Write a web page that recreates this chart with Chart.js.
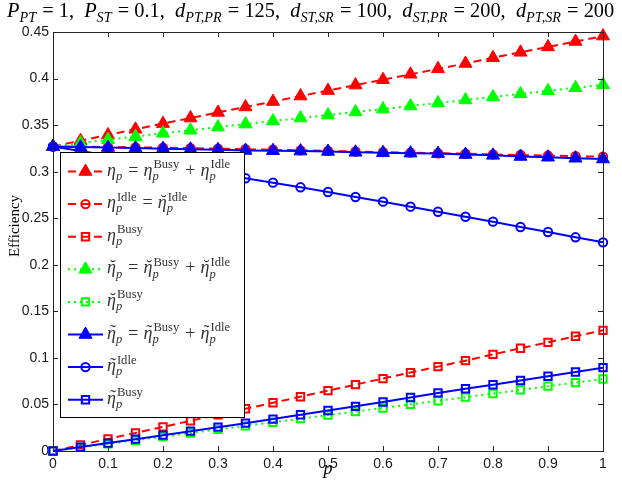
<!DOCTYPE html>
<html>
<head>
<meta charset="utf-8">
<title>Efficiency vs p</title>
<script src="https://cdn.jsdelivr.net/npm/chart.js@4.4.0/dist/chart.umd.min.js"></script>
<style>
  body { margin: 0; background: #fff; }
  canvas { display: block; }
</style>
</head>
<body>
<canvas id="chart" width="622" height="483"></canvas>
<script>
// p values on the x axis
const pVals = [0, 0.05, 0.1, 0.15, 0.2, 0.25, 0.3, 0.35, 0.4, 0.45, 0.5,
               0.55, 0.6, 0.65, 0.7, 0.75, 0.8, 0.85, 0.9, 0.95, 1];

// red (dashed) series
const etaTotal = [0.327, 0.3333, 0.3395, 0.3455, 0.3516, 0.3576, 0.3636, 0.3695, 0.3753, 0.3812, 0.3871,
                  0.393, 0.3988, 0.4046, 0.4104, 0.4162, 0.4223, 0.4282, 0.434, 0.4398, 0.4456];
const etaIdle  = [0.327, 0.3268, 0.3265, 0.3261, 0.3257, 0.3252, 0.3247, 0.3241, 0.3235, 0.3229, 0.3223,
                  0.3217, 0.321, 0.3204, 0.3198, 0.3192, 0.3185, 0.3179, 0.3173, 0.3166, 0.316];
const etaBusy  = [0, 0.0065, 0.013, 0.0194, 0.0259, 0.0324, 0.0389, 0.0454, 0.0518, 0.0583, 0.0648,
                  0.0713, 0.0778, 0.0842, 0.0906, 0.097, 0.1038, 0.1103, 0.1167, 0.1232, 0.1296];

// green (dotted) series
const brTotal = [0.327, 0.3307, 0.3343, 0.3377, 0.3412, 0.3445, 0.3479, 0.3511, 0.3544, 0.3576, 0.3608,
                 0.3641, 0.3672, 0.3705, 0.3738, 0.377, 0.3802, 0.3835, 0.3869, 0.3901, 0.3933];
const brBusy  = [0, 0.0039, 0.0078, 0.0116, 0.0155, 0.0193, 0.0232, 0.027, 0.0309, 0.0347, 0.0385,
                 0.0424, 0.0462, 0.0501, 0.054, 0.0578, 0.0617, 0.0656, 0.0696, 0.0735, 0.0773];

// blue (solid) series
const tlTotal = [0.327, 0.3264, 0.3259, 0.3253, 0.3247, 0.3241, 0.3235, 0.3228, 0.3225, 0.3221, 0.3217,
                 0.3208, 0.3204, 0.3199, 0.3194, 0.3184, 0.3175, 0.3163, 0.3155, 0.3144, 0.3136];
const tlIdle  = [0.327, 0.3222, 0.3174, 0.3126, 0.3077, 0.3028, 0.2979, 0.2929, 0.2882, 0.2832, 0.2782,
                 0.2728, 0.2678, 0.2624, 0.257, 0.2516, 0.2463, 0.2406, 0.2352, 0.2295, 0.2241];
const tlBusy  = [0, 0.0042, 0.0085, 0.0127, 0.017, 0.0213, 0.0256, 0.0299, 0.0343, 0.0389, 0.0435,
                 0.048, 0.0526, 0.0575, 0.0624, 0.0668, 0.0712, 0.0757, 0.0803, 0.0849, 0.0895];

const RED = '#ff0000', GREEN = '#00ff00', BLUE = '#0000ff';
const DASH = [8, 5], DOT = [2, 4], SOLID = [];
const SERIF = '"Liberation Serif", "DejaVu Serif", serif';
const SANS = '"Liberation Sans", Arial, sans-serif';

// marker radius per style
const radius = { triangle: 7.5, circle: 4.2, rect: 5.2 };

function series(values, color, style, dash, order) {
  const filled = style === 'triangle';
  return {
    data: pVals.map((p, i) => ({ x: p, y: values[i] })),
    borderColor: color,
    borderWidth: 2,
    borderDash: dash,
    pointStyle: style,
    pointRadius: radius[style],
    pointBorderWidth: filled ? 1 : 2,
    pointBorderColor: color,
    pointBackgroundColor: filled ? color : 'rgba(0,0,0,0)',
    tension: 0,
    clip: false,
    order: order,
    _dash: dash
  };
}

const datasets = [
  series(etaTotal, RED, 'triangle', DASH, 8),
  series(etaIdle, RED, 'circle', DASH, 7),
  series(etaBusy, RED, 'rect', DASH, 6),
  series(brTotal, GREEN, 'triangle', DOT, 5),
  series(brBusy, GREEN, 'rect', DOT, 4),
  series(tlTotal, BLUE, 'triangle', SOLID, 3),
  series(tlIdle, BLUE, 'circle', SOLID, 2),
  series(tlBusy, BLUE, 'rect', SOLID, 1)
];

// legend rows: each one a list of math pieces
const eta = (acc, sup) => ({ b: '\u03b7', acc: acc, sub: 'p', sup: sup });
const legendRows = [
  [eta('', ''), '=', eta('', 'Busy'), '+', eta('', 'Idle')],
  [eta('', 'Idle'), '=', eta('breve', 'Idle')],
  [eta('', 'Busy')],
  [eta('breve', ''), '=', eta('breve', 'Busy'), '+', eta('breve', 'Idle')],
  [eta('breve', 'Busy')],
  [eta('tilde', ''), '=', eta('tilde', 'Busy'), '+', eta('tilde', 'Idle')],
  [eta('tilde', 'Idle')],
  [eta('tilde', 'Busy')]
];

const titleParts = [
  { b: 'P', sub: 'PT' }, ' = 1,  ', { b: 'P', sub: 'ST' }, ' = 0.1,  ',
  { b: 'd', sub: 'PT,PR' }, ' = 125,  ', { b: 'd', sub: 'ST,SR' }, ' = 100,  ',
  { b: 'd', sub: 'ST,PR' }, ' = 200,  ', { b: 'd', sub: 'PT,SR' }, ' = 200'
];

// draws (or just measures) a row of math pieces, returns the end x
function drawMath(ctx, parts, x, y, size, draw) {
  const ss = size * 0.7;
  parts.forEach(part => {
    if (typeof part === 'string') {
      ctx.font = size + 'px ' + SERIF;
      const op = part === '=' || part === '+';
      if (op) x += size * 0.28;
      if (draw) ctx.fillText(part, x, y);
      x += ctx.measureText(part).width;
      if (op) x += size * 0.28;
      return;
    }
    ctx.font = 'italic ' + size + 'px ' + SERIF;
    const w = ctx.measureText(part.b).width;
    if (draw) ctx.fillText(part.b, x, y);
    if (part.acc && draw) {
      const ch = part.acc === 'breve' ? '\u02d8' : '\u02dc';
      ctx.font = size + 'px ' + SERIF;
      const aw = ctx.measureText(ch).width;
      ctx.fillText(ch, x + w / 2 + size * 0.08 - aw / 2, y - size * 0.02);
    }
    let sw = 0;
    if (part.sup) {
      ctx.font = ss + 'px ' + SERIF;
      if (draw) ctx.fillText(part.sup, x + w + 1, y - size * 0.42);
      sw = Math.max(sw, ctx.measureText(part.sup).width + 1);
    }
    if (part.sub) {
      ctx.font = 'italic ' + ss + 'px ' + SERIF;
      if (draw) ctx.fillText(part.sub, x + w, y + size * 0.24);
      sw = Math.max(sw, ctx.measureText(part.sub).width);
    }
    x += w + sw + 1;
  });
  return x;
}

function drawMarker(ctx, style, x, y, color) {
  const r = radius[style];
  ctx.save();
  ctx.setLineDash([]);
  ctx.strokeStyle = color;
  ctx.fillStyle = color;
  ctx.beginPath();
  if (style === 'triangle') {
    ctx.lineWidth = 1;
    ctx.moveTo(x, y - r);
    ctx.lineTo(x + r * 0.866, y + r * 0.5);
    ctx.lineTo(x - r * 0.866, y + r * 0.5);
    ctx.closePath();
    ctx.fill();
    ctx.stroke();
  } else if (style === 'circle') {
    ctx.lineWidth = 2;
    ctx.arc(x, y, r, 0, Math.PI * 2);
    ctx.stroke();
  } else {
    ctx.lineWidth = 2;
    const s = r * Math.SQRT1_2;
    ctx.rect(x - s, y - s, 2 * s, 2 * s);
    ctx.stroke();
  }
  ctx.restore();
}

const decorations = {
  id: 'decorations',
  afterDraw(chart) {
    const ctx = chart.ctx;
    const a = chart.chartArea;
    const xs = chart.scales.x, ys = chart.scales.y;
    ctx.save();

    // box and inward ticks
    ctx.strokeStyle = '#262626';
    ctx.lineWidth = 1;
    ctx.strokeRect(Math.round(a.left) + 0.5, Math.round(a.top) + 0.5,
                   Math.round(a.right - a.left), Math.round(a.bottom - a.top));
    ctx.beginPath();
    xs.ticks.forEach(t => {
      const px = Math.round(xs.getPixelForValue(t.value)) + 0.5;
      ctx.moveTo(px, a.bottom); ctx.lineTo(px, a.bottom - 5);
      ctx.moveTo(px, a.top); ctx.lineTo(px, a.top + 5);
    });
    ys.ticks.forEach(t => {
      const py = Math.round(ys.getPixelForValue(t.value)) + 0.5;
      ctx.moveTo(a.left, py); ctx.lineTo(a.left + 5, py);
      ctx.moveTo(a.right, py); ctx.lineTo(a.right - 5, py);
    });
    ctx.stroke();

    // title
    ctx.fillStyle = '#000';
    ctx.textBaseline = 'alphabetic';
    const tw = drawMath(ctx, titleParts, 0, 0, 16, false);
    const tsize = 16 * 609 / tw;
    drawMath(ctx, titleParts, 7, 17, tsize, true);

    // axis labels
    ctx.font = 'italic 18px ' + SERIF;
    ctx.textAlign = 'center';
    ctx.fillText('p', (a.left + a.right) / 2, 474);
    ctx.save();
    ctx.translate(19, 226);
    ctx.rotate(-Math.PI / 2);
    ctx.font = '15px ' + SERIF;
    ctx.fillText('Efficiency', 0, 0);
    ctx.restore();
    ctx.textAlign = 'left';

    // legend box
    const bx = 60.5, by = 152.5, bw = 184, bh = 265;
    ctx.fillStyle = '#fff';
    ctx.fillRect(bx, by, bw, bh);
    ctx.strokeStyle = '#000';
    ctx.lineWidth = 1;
    ctx.strokeRect(bx, by, bw, bh);

    chart.data.datasets.forEach((d, i) => {
      const y = 171.5 + 32.6 * i;
      ctx.save();
      ctx.strokeStyle = d.borderColor;
      ctx.lineWidth = 2;
      ctx.setLineDash(d._dash);
      ctx.beginPath();
      ctx.moveTo(68, y);
      ctx.lineTo(103, y);
      ctx.stroke();
      ctx.restore();
      drawMarker(ctx, d.pointStyle, 85.5, y, d.borderColor);
      ctx.fillStyle = '#333';
      drawMath(ctx, legendRows[i], 107, y + 4, 18, true);
    });
    ctx.restore();
  }
};

const fmt = v => String(parseFloat(Number(v).toFixed(2)));

new Chart(document.getElementById('chart'), {
  type: 'line',
  data: { datasets: datasets },
  options: {
    responsive: false,
    animation: false,
    devicePixelRatio: 1,
    layout: { padding: { top: 32, right: 19, left: 0, bottom: 0 } },
    plugins: { legend: { display: false }, tooltip: { enabled: false }, title: { display: false } },
    scales: {
      x: {
        type: 'linear', min: 0, max: 1,
        grid: { display: false, drawTicks: false },
        border: { display: false },
        ticks: { stepSize: 0.1, padding: 5, maxRotation: 0, color: '#1a1a1a',
                 font: { family: SANS, size: 14 }, callback: fmt },
        afterFit: s => { s.height = 32; }
      },
      y: {
        type: 'linear', min: 0, max: 0.45,
        grid: { display: false, drawTicks: false },
        border: { display: false },
        ticks: { stepSize: 0.05, padding: 4, color: '#1a1a1a',
                 font: { family: SANS, size: 14 }, callback: fmt },
        afterFit: s => { s.width = 53; }
      }
    }
  },
  plugins: [decorations]
});
</script>
</body>
</html>
